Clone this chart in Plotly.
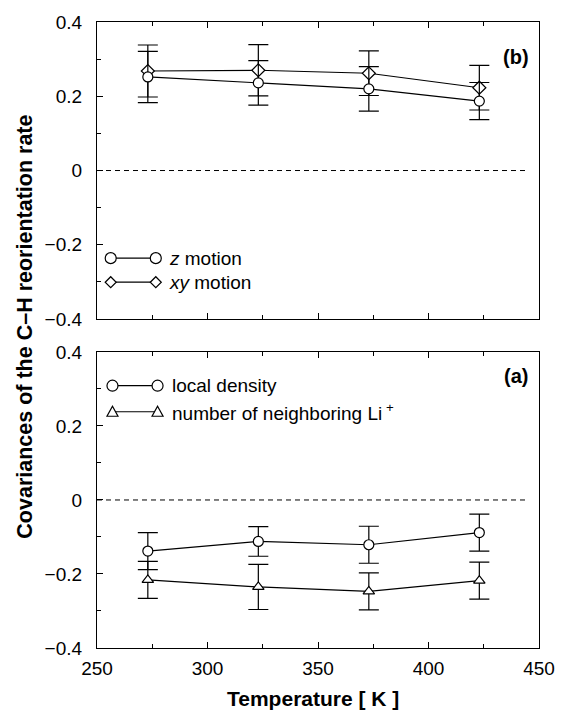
import plotly.graph_objects as go

# ---- data ----
temps = [273, 323, 373, 423]

# panel (b)
z_motion = [0.252, 0.236, 0.220, 0.187]
z_err = [0.069, 0.060, 0.060, 0.050]
xy_motion = [0.268, 0.270, 0.262, 0.223]
xy_err = [0.070, 0.069, 0.060, 0.060]

# panel (a)
local_density = [-0.138, -0.112, -0.121, -0.088]
ld_err = [0.050, 0.040, 0.050, 0.050]
neigh_li = [-0.216, -0.235, -0.247, -0.218]
nl_err = [0.050, 0.061, 0.050, 0.050]

x_ticks = [250, 300, 350, 400, 450]
y_ticks = [0.4, 0.2, 0, -0.2, -0.4]
y_ticktext = ["0.4", "0.2", "0", "\u22120.2", "\u22120.4"]

FONT = "Liberation Sans, Arial, sans-serif"
W, H = 567, 713
ML, MR, MT, MB = 97, 18, 20, 65

fig = go.Figure()


def series(x, y, err, symbol, xa, ya):
    fig.add_trace(go.Scatter(
        x=x, y=y, mode="lines+markers", xaxis=xa, yaxis=ya,
        line=dict(color="black", width=1.2),
        marker=dict(symbol=symbol, size=10, color="white",
                    line=dict(color="black", width=1.2)),
        error_y=dict(type="data", array=err, visible=True, color="black",
                     thickness=1.2, width=10),
        showlegend=False, hoverinfo="skip"))


series(temps, xy_motion, xy_err, "diamond", "x", "y")
series(temps, z_motion, z_err, "circle", "x", "y")
series(temps, neigh_li, nl_err, "triangle-up", "x2", "y2")
series(temps, local_density, ld_err, "circle", "x2", "y2")

plot_h = H - MT - MB
top_dom = [(648 - 318) / plot_h, 1.0]
bot_dom = [0.0, (648 - 351) / plot_h]

axis_common = dict(showgrid=False, zeroline=False, showline=True,
                   linecolor="black", linewidth=1.2,
                   tickfont=dict(family=FONT, size=19, color="black"))

xcommon = dict(axis_common, range=[250, 450], tickvals=x_ticks, ticks="inside",
               ticklen=6, tickwidth=1, tickcolor="black", mirror="ticks",
               minor=dict(dtick=25, tick0=250, ticks="inside", ticklen=4,
                          tickwidth=1, tickcolor="black"))
ycommon = dict(axis_common, range=[-0.4, 0.4], tickvals=y_ticks,
               ticktext=y_ticktext, ticks="inside", ticklen=6, tickwidth=1,
               tickcolor="black", mirror=True, ticklabelstandoff=10,
               minor=dict(dtick=0.1, tick0=0, ticks="inside", ticklen=4,
                          tickwidth=1, tickcolor="black"))

fig.update_layout(
    width=W, height=H, margin=dict(l=ML, r=MR, t=MT, b=MB),
    paper_bgcolor="white", plot_bgcolor="white",
    font=dict(family=FONT, size=19, color="black"),
    xaxis=dict(xcommon, anchor="y", showticklabels=False),
    yaxis=dict(ycommon, domain=top_dom, anchor="x"),
    xaxis2=dict(xcommon, anchor="y2", ticklabelstandoff=3),
    yaxis2=dict(ycommon, domain=bot_dom, anchor="x2"),
)

shapes = []
# dashed zero lines
for xr, yr in (("x", "y"), ("x2", "y2")):
    shapes.append(dict(type="line", xref=xr, yref=yr, x0=250, x1=445, y0=0, y1=0,
                       line=dict(color="black", width=1, dash="5px,4px")))


def legend_entry(xr, yr, xa, xb, yy, kind):
    xd, yd = xr + " domain", yr + " domain"
    shapes.append(dict(type="line", xref=xd, yref=yd, x0=xa, x1=xb, y0=yy, y1=yy,
                       line=dict(color="black", width=1.2)))
    for xm in (xa, xb):
        base = dict(xref=xd, yref=yd, xsizemode="pixel", ysizemode="pixel",
                    xanchor=xm, yanchor=yy, fillcolor="white",
                    line=dict(color="black", width=1.2))
        if kind == "circle":
            shapes.append(dict(base, type="circle", x0=-5.5, x1=5.5, y0=-5.5, y1=5.5))
        elif kind == "diamond":
            shapes.append(dict(base, type="path",
                               path="M -5.5 0 L 0 5.5 L 5.5 0 L 0 -5.5 Z"))
        else:
            shapes.append(dict(base, type="path",
                               path="M -5.5 -4.5 L 5.5 -4.5 L 0 5.5 Z"))


legend_entry("x", "y", 0.031, 0.133, 0.205, "circle")
legend_entry("x", "y", 0.031, 0.133, 0.124, "diamond")
legend_entry("x2", "y2", 0.035, 0.137, 0.886, "circle")
legend_entry("x2", "y2", 0.035, 0.137, 0.798, "triangle")
fig.update_layout(shapes=shapes)

ann = [
    dict(xref="x domain", yref="y domain", x=0.159, y=0.205, text="<i>z</i> motion",
         showarrow=False, xanchor="left", yanchor="middle", font=dict(size=19)),
    dict(xref="x domain", yref="y domain", x=0.159, y=0.124, text="<i>xy</i> motion",
         showarrow=False, xanchor="left", yanchor="middle", font=dict(size=19)),
    dict(xref="x2 domain", yref="y2 domain", x=0.166, y=0.886, text="local density",
         showarrow=False, xanchor="left", yanchor="middle", font=dict(size=19)),
    dict(xref="x2 domain", yref="y2 domain", x=0.166, y=0.798,
         text="number of neighboring Li<sup> +</sup>",
         showarrow=False, xanchor="left", yanchor="middle", font=dict(size=19)),
    dict(xref="x domain", yref="y domain", x=0.947, y=0.883, text="<b>(b)</b>",
         showarrow=False, xanchor="center", yanchor="middle", font=dict(size=20)),
    dict(xref="x2 domain", yref="y2 domain", x=0.947, y=0.919, text="<b>(a)</b>",
         showarrow=False, xanchor="center", yanchor="middle", font=dict(size=20)),
    dict(xref="paper", yref="paper", x=(318 - ML) / (W - ML - MR),
         y=-(712 - 648) / plot_h, text="<b>Temperature [ K ]</b>",
         showarrow=False, xanchor="center", yanchor="bottom", font=dict(size=21)),
    dict(xref="paper", yref="paper", x=-(ML - 23) / (W - ML - MR),
         y=(648 - 326) / plot_h, text="<b>Covariances of the C\u2013H reorientation rate</b>",
         showarrow=False, xanchor="center", yanchor="middle", textangle=-90,
         font=dict(size=21.5)),
]
fig.update_layout(annotations=ann)

fig.write_html("out.html")
